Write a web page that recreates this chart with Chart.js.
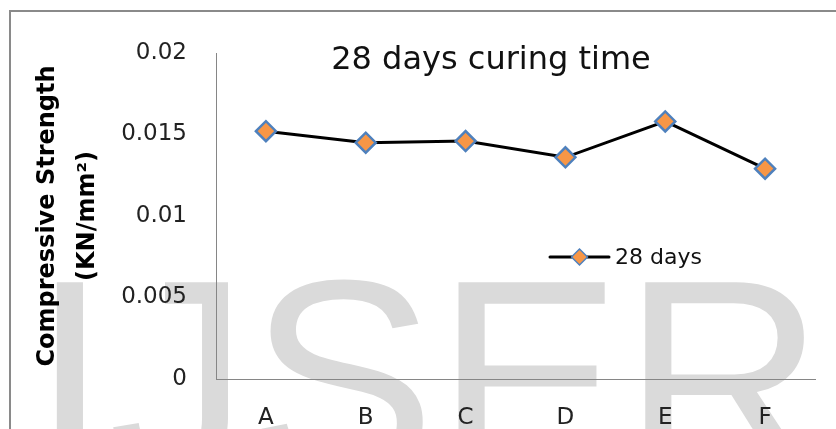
<!DOCTYPE html>
<html>
<head>
<meta charset="utf-8">
<title>28 days curing time</title>
<style>
  html, body { margin: 0; padding: 0; background: #fff; overflow: hidden; }
  canvas { display: block; }
</style>
<script src="https://cdn.jsdelivr.net/npm/chart.js@4/dist/chart.umd.min.js"></script>
</head>
<body>
<canvas id="chart" width="836" height="429"></canvas>
<script>
// Compressive strength after 28 days of curing, per mix
const categories = ['A', 'B', 'C', 'D', 'E', 'F'];
const strength28 = [0.0152, 0.0145, 0.0146, 0.0136, 0.0158, 0.0129];
const yTickLabels = ['0', '0.005', '0.01', '0.015', '0.02'];
const seriesName = '28 days';
const chartTitle = '28 days curing time';
const yAxisTitle = ['Compressive Strength', '(KN/mm²)'];
const watermarkText = 'IJSER';

const FONT = "'DejaVu Sans', sans-serif";
const ORANGE = '#F79646';
const BLUE = '#4F81BD';
const AXIS = '#868686';

Chart.defaults.font.family = FONT;
Chart.defaults.color = '#222';

// white page, faint watermark and the outer frame, under everything else
const backdrop = {
  id: 'backdrop',
  beforeDraw(chart) {
    const ctx = chart.ctx;
    ctx.save();
    ctx.fillStyle = '#fff';
    ctx.fillRect(0, 0, chart.width, chart.height);
    ctx.font = "280px 'Liberation Sans', Arial, sans-serif";
    ctx.fillStyle = '#dadada';
    ctx.textAlign = 'left';
    ctx.textBaseline = 'alphabetic';
    ctx.fillText(watermarkText, 31, 475);
    ctx.fillStyle = '#8a8a8a';
    ctx.fillRect(9, 10, 2, chart.height - 10);
    ctx.fillRect(9, 10, chart.width - 9, 2);
    ctx.restore();
  }
};

// title sits inside the plot area
const innerTitle = {
  id: 'innerTitle',
  afterDatasetsDraw(chart) {
    const ctx = chart.ctx;
    ctx.save();
    ctx.font = "32px " + FONT;
    ctx.fillStyle = '#111';
    ctx.textAlign = 'center';
    ctx.textBaseline = 'middle';
    ctx.fillText(chartTitle, 491, 61);
    ctx.restore();
  }
};

// legend entry drawn inside the plot area, styled from the dataset
const innerLegend = {
  id: 'innerLegend',
  afterDatasetsDraw(chart) {
    const ds = chart.data.datasets[0];
    const area = chart.chartArea;
    const ctx = chart.ctx;
    const x0 = area.left + 334, x1 = area.left + 393, y = 257;
    const cx = (x0 + x1) / 2, r = 8;
    ctx.save();
    ctx.strokeStyle = ds.borderColor;
    ctx.lineWidth = ds.borderWidth;
    ctx.lineCap = 'round';
    ctx.beginPath();
    ctx.moveTo(x0, y);
    ctx.lineTo(x1, y);
    ctx.stroke();
    ctx.beginPath();
    ctx.moveTo(cx - r, y);
    ctx.lineTo(cx, y - r);
    ctx.lineTo(cx + r, y);
    ctx.lineTo(cx, y + r);
    ctx.closePath();
    ctx.fillStyle = ds.pointBackgroundColor;
    ctx.fill();
    ctx.lineWidth = 1.5;
    ctx.strokeStyle = ds.pointBorderColor;
    ctx.stroke();
    ctx.font = "22px " + FONT;
    ctx.fillStyle = '#111';
    ctx.textAlign = 'left';
    ctx.textBaseline = 'middle';
    ctx.fillText(ds.label, x1 + 6, y + 1);
    ctx.restore();
  }
};

new Chart(document.getElementById('chart'), {
  type: 'line',
  data: {
    labels: categories,
    datasets: [{
      label: seriesName,
      data: strength28,
      borderColor: '#000',
      borderWidth: 3,
      tension: 0,
      fill: false,
      pointStyle: 'rectRot',
      pointRadius: 10,
      pointHoverRadius: 10,
      pointBackgroundColor: ORANGE,
      pointBorderColor: BLUE,
      pointBorderWidth: 2.5
    }]
  },
  options: {
    responsive: false,
    animation: false,
    events: [],
    layout: { padding: { top: 53, right: 21, bottom: 0, left: 0 } },
    plugins: {
      legend: { display: false },
      title: { display: false },
      tooltip: { enabled: false }
    },
    scales: {
      x: {
        type: 'category',
        offset: true,
        grid: { display: false, drawTicks: false },
        border: { display: true, color: AXIS, width: 1 },
        ticks: { font: { size: 23 }, padding: 25, color: '#222', maxRotation: 0 },
        afterFit(scale) { scale.height = 50; }
      },
      y: {
        min: 0,
        max: 0.02,
        grid: { display: false, drawTicks: false },
        border: { display: true, color: AXIS, width: 1 },
        ticks: {
          stepSize: 0.005,
          font: { size: 23 },
          padding: 29,
          color: '#222',
          callback: (value, index) => yTickLabels[index]
        },
        title: {
          display: true,
          text: yAxisTitle,
          color: '#000',
          font: { size: 24, weight: 'bold', lineHeight: 1.7 },
          padding: { top: 27, bottom: 0 }
        },
        afterFit(scale) { scale.width = 216; }
      }
    }
  },
  plugins: [backdrop, innerTitle, innerLegend]
});
</script>
</body>
</html>
